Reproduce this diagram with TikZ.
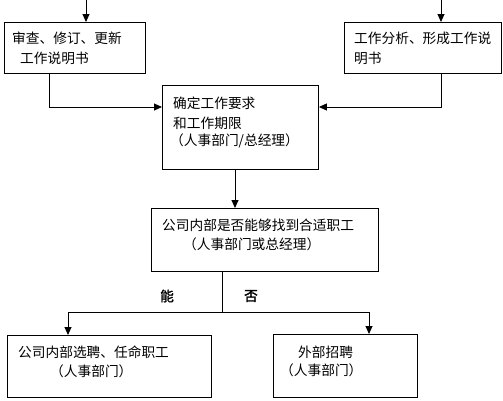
\documentclass[tikz,border=0pt]{standalone}
\usepackage{fontspec}
\newfontfamily\cjk[AutoFakeBold=2]{Noto Sans CJK SC}
\usetikzlibrary{arrows.meta}
\begin{document}
\begin{tikzpicture}[x=1pt,y=-1pt,
  box/.style={draw,line width=0.9pt,inner sep=0pt,anchor=north west},
  txt/.style={font=\cjk\fontsize{13.7}{16}\selectfont,anchor=west,inner sep=0pt},
  lab/.style={font=\cjk\bfseries\fontsize{13.7}{16}\selectfont,inner sep=0pt},
  arr/.style={line width=0.9pt,-{Triangle[length=8pt,width=7pt]}},
  ln/.style={line width=0.9pt}]
\useasboundingbox (0,0) rectangle (503,400);
% boxes
\node[box,minimum width=141pt,minimum height=51pt] (b1) at (4,22) {};
\node[box,minimum width=157pt,minimum height=51pt] (b2) at (344,22) {};
\node[box,minimum width=156pt,minimum height=84pt] (b3) at (162,85) {};
\node[box,minimum width=227pt,minimum height=63pt] (b4) at (151,208) {};
\node[box,minimum width=204pt,minimum height=62pt] (b5) at (7,335) {};
\node[box,minimum width=144pt,minimum height=63pt] (b6) at (273,334) {};
% texts
\node[txt] (t1a) at (12,38) {审查、修订、更新};
\node[txt] (t1b) at (20,58) {工作说明书};
\node[txt] (t2a) at (354,38) {工作分析、形成工作说};
\node[txt] (t2b) at (354,58) {明书};
\node[txt] (t3a) at (173,103) {确定工作要求};
\node[txt] (t3b) at (173,123) {和工作期限};
\node[txt] (t3c) at (170,141) {（人事部门/总经理）};
\node[txt] (t4a) at (162,225) {公司内部是否能够找到合适职工};
\node[txt] (t4b) at (183,244) {（人事部门或总经理）};
\node[txt] (t5a) at (18,352) {公司内部选聘、任命职工};
\node[txt] (t5b) at (50,371) {（人事部门）};
\node[txt] (t6a) at (298,352) {外部招聘};
\node[txt] (t6b) at (280,370) {（人事部门）};
\node[lab] (yes) at (167,296) {能};
\node[lab] (no) at (251,296) {否};
% connector points
\coordinate (s1) at (86,0);
\coordinate (s2) at (441,0);
\coordinate (c1) at (49,107);
\coordinate (c2) at (441,107);
\coordinate (c3) at (235,0);
\coordinate (j) at (222,312);
\coordinate (c5) at (68,312);
\coordinate (c6) at (369,312);
% connectors
\draw[arr] (s1) -- (s1 |- b1.north);
\draw[arr] (s2) -- (s2 |- b2.north);
\draw[arr] (c1 |- b1.south) -- (c1) -- (c1 -| b3.west);
\draw[arr] (c2 |- b2.south) -- (c2) -- (c2 -| b3.east);
\draw[arr] (c3 |- b3.south) -- (c3 |- b4.north);
\draw[ln] (j |- b4.south) -- (j);
\draw[arr] (j) -- (c5) -- (c5 |- b5.north);
\draw[arr] (j) -- (c6) -- (c6 |- b6.north);
\end{tikzpicture}
\end{document}
